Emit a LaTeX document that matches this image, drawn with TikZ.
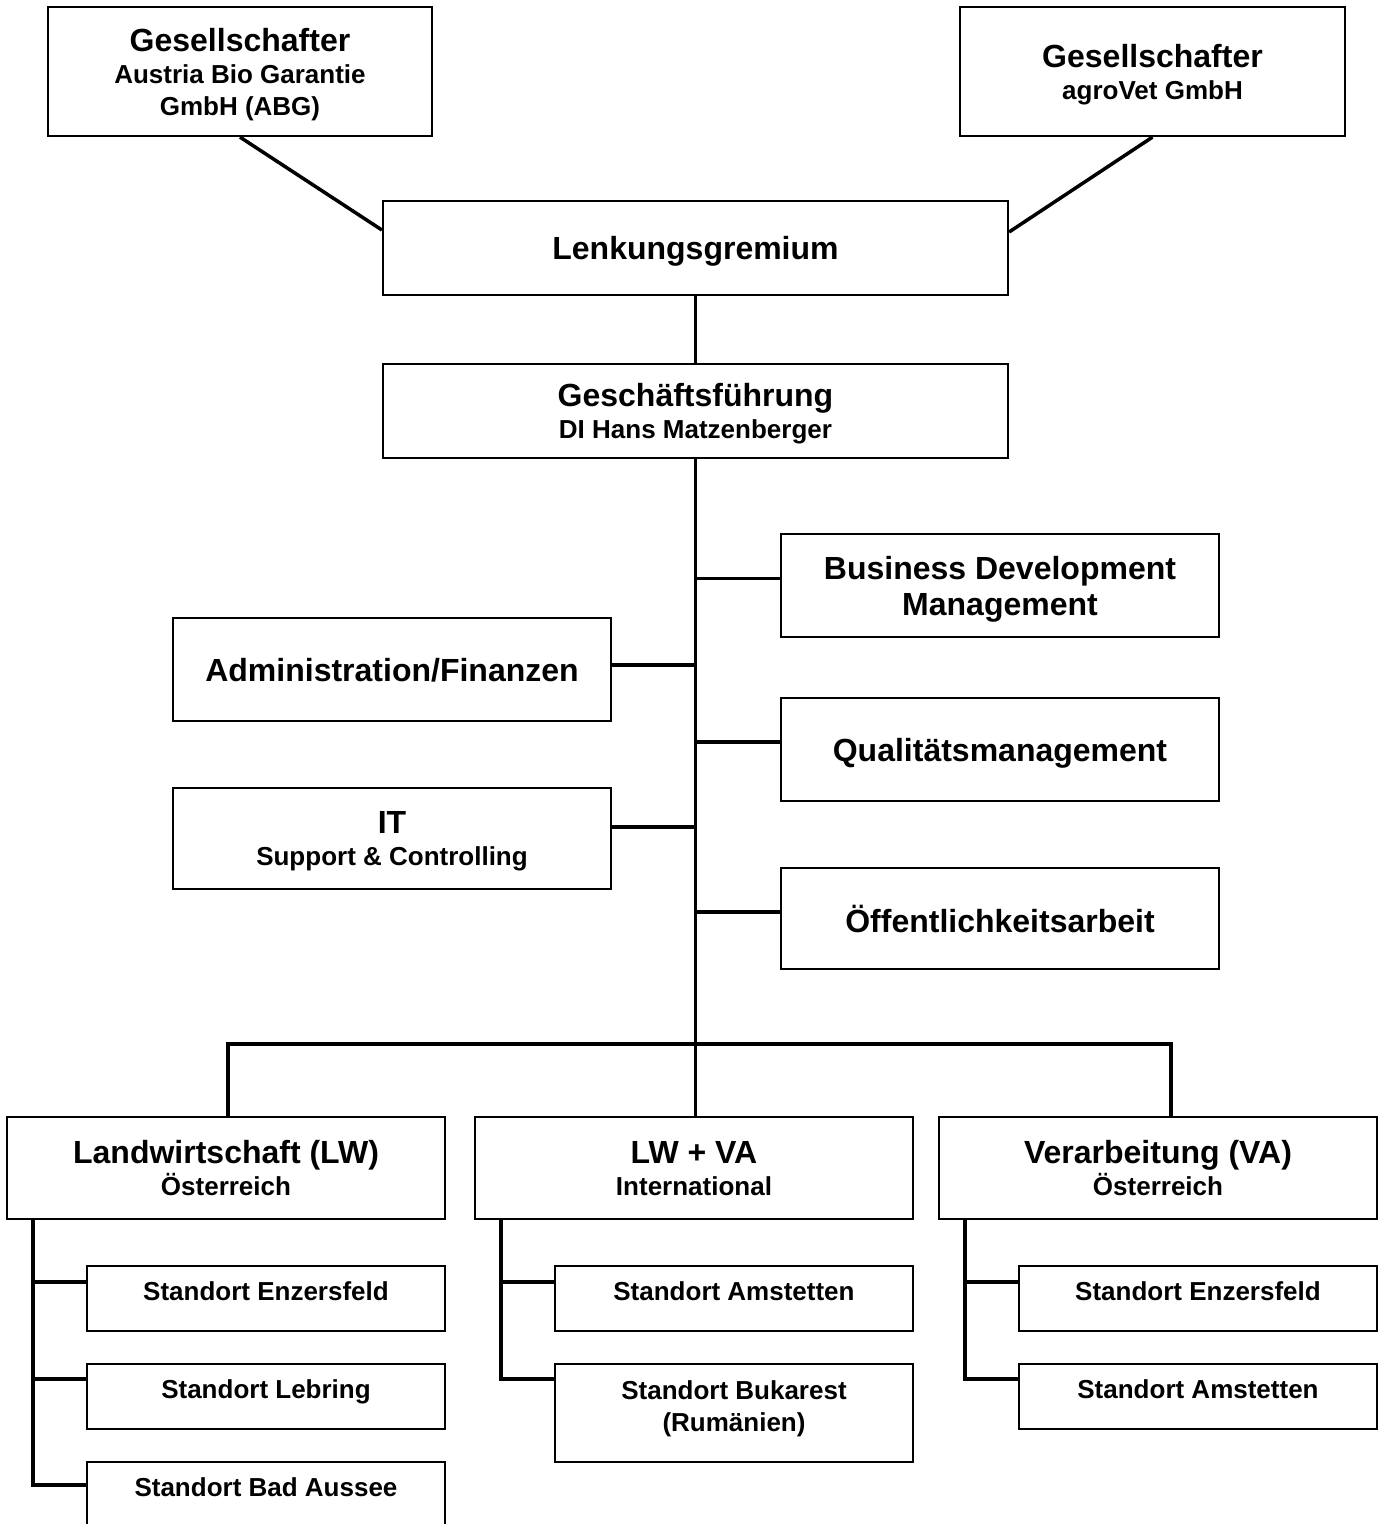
\documentclass[tikz,border=0pt]{standalone}
\usepackage{fontspec}
\setmainfont{Liberation Sans}
\usetikzlibrary{calc}
\newcommand{\bigfont}{\fontsize{32}{36}\selectfont}
\newcommand{\smallfont}{\fontsize{26}{32}\selectfont}

\begin{document}
\begin{tikzpicture}[x=1pt, y=-1pt,
    box/.style={draw, line width=2.2pt, rectangle, inner sep=0pt, align=center, text depth=0pt, font=\bfseries\bigfont},
    twoline/.style={box, font=\bfseries\smallfont},
    subbox/.style={box, font=\bfseries\smallfont, minimum width=358pt, minimum height=65pt, text depth=14pt},
    conn/.style={line width=3.5pt}]
    \fill[white] (0,0) rectangle (1384,1524);
    \useasboundingbox (0,0) rectangle (1384,1524);
    \clip (0,0) rectangle (1384,1524);

    % owners and board
    \node[twoline, minimum width=384pt, minimum height=129pt] (g1) at (240,71.5) {{\bigfont Gesellschafter}\\Austria Bio Garantie\\GmbH (ABG)};
    \node[twoline, minimum width=385pt, minimum height=129pt] (g2) at (1152.5,71.5) {{\bigfont Gesellschafter}\\agroVet GmbH};
    \node[box, minimum width=625pt, minimum height=94pt] (lenk) at (695.5,248) {Lenkungsgremium};
    \node[twoline, minimum width=625pt, minimum height=94pt] (gf) at (695.5,411) {{\bigfont Geschäftsführung}\\DI Hans Matzenberger};

    % staff units
    \node[box, minimum width=438pt, minimum height=103pt] (bdm) at (1000,585.5) {Business Development\\Management};
    \node[box, minimum width=438pt, minimum height=103pt] (af) at (392,669.5) {Administration/Finanzen};
    \node[box, minimum width=438pt, minimum height=103pt] (qm) at (1000,749.5) {Qualitätsmanagement};
    \node[twoline, minimum width=438pt, minimum height=101pt] (it) at (392,838.5) {{\bigfont IT}\\Support \& Controlling};
    \node[box, minimum width=438pt, minimum height=101pt] (oea) at (1000,918.5) {Öffentlichkeitsarbeit};

    % divisions
    \node[twoline, minimum width=438pt, minimum height=102pt] (lw) at (226,1168) {{\bigfont Landwirtschaft (LW)}\\Österreich};
    \node[twoline, minimum width=438pt, minimum height=102pt] (lwva) at (694,1168) {{\bigfont LW + VA}\\International};
    \node[twoline, minimum width=438pt, minimum height=102pt] (va) at (1158,1168) {{\bigfont Verarbeitung (VA)}\\Österreich};

    % sites
    \node[subbox] (lw1) at (266,1298.5) {Standort Enzersfeld};
    \node[subbox] (lw2) at (266,1396.5) {Standort Lebring};
    \node[subbox] (lw3) at (266,1494.5) {Standort Bad Aussee};
    \node[subbox] (lwva1) at (734,1298.5) {Standort Amstetten};
    \node[subbox, minimum height=98pt] (lwva2) at (734,1413) {Standort Bukarest\\(Rumänien)};
    \node[subbox] (va1) at (1198,1298.5) {Standort Enzersfeld};
    \node[subbox] (va2) at (1198,1396.5) {Standort Amstetten};

    % connectors
    \draw[conn] (g1.south) -- ([yshift=18pt]lenk.west);
    \draw[conn] (g2.south) -- ([yshift=16pt]lenk.east);
    \draw[conn] (lenk.south) -- (gf.north);

    \coordinate (trunk) at (gf.south);
    \coordinate (bar) at (695.5,1044);
    \draw[conn] (gf.south) -- (gf.south |- lwva.north);
    \draw[conn] ([yshift=7pt]bdm.west) -- ([yshift=7pt]bdm.west -| trunk);
    \draw[conn] ([yshift=4.5pt]af.east) -- ([yshift=4.5pt]af.east -| trunk);
    \draw[conn] ([yshift=7.5pt]qm.west) -- ([yshift=7.5pt]qm.west -| trunk);
    \draw[conn] ([yshift=11.5pt]it.east) -- ([yshift=11.5pt]it.east -| trunk);
    \draw[conn] ([yshift=6.5pt]oea.west) -- ([yshift=6.5pt]oea.west -| trunk);

    \draw[conn] ([xshift=2pt]lw.north) |- (bar) -| ([xshift=13pt]va.north);

    \coordinate (lwt) at ([xshift=27pt]lw.south west);
    \draw[conn] (lwt) |- ([yshift=-24pt]lw3.north west);
    \draw[conn] ([yshift=-17pt]lw1.north west) -- ([yshift=-17pt]lw1.north west -| lwt);
    \draw[conn] ([yshift=-16pt]lw2.north west) -- ([yshift=-16pt]lw2.north west -| lwt);

    \coordinate (lwvat) at ([xshift=27pt]lwva.south west);
    \draw[conn] (lwvat) |- ([yshift=-16pt]lwva2.north west);
    \draw[conn] ([yshift=-17pt]lwva1.north west) -- ([yshift=-17pt]lwva1.north west -| lwvat);

    \coordinate (vat) at ([xshift=27pt]va.south west);
    \draw[conn] (vat) |- ([yshift=-16pt]va2.north west);
    \draw[conn] ([yshift=-17pt]va1.north west) -- ([yshift=-17pt]va1.north west -| vat);
\end{tikzpicture}
\end{document}
